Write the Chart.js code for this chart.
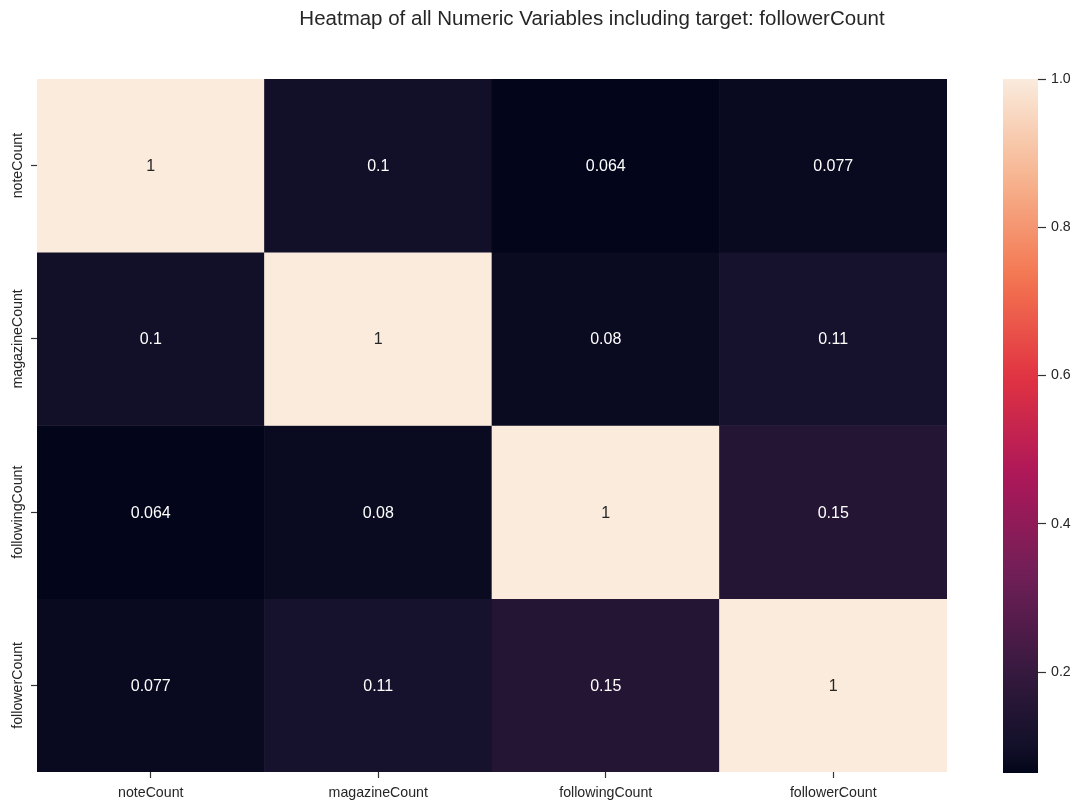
<!DOCTYPE html>
<html>
<head>
<meta charset="utf-8">
<title>Heatmap</title>
<script src="https://cdn.jsdelivr.net/npm/chart.js@4"></script>
<style>
  body { margin: 0; background: #fff; }
  #wrap { position: relative; width: 1082px; height: 810px; }
  .layer { position: absolute; left: 0; top: 0; width: 1082px; height: 810px; }
  #title {
    position: absolute; left: 0; top: 8px; width: 1184px; text-align: center;
    font-family: "Liberation Sans", Arial, sans-serif; font-size: 20.5px; line-height: 1;
    color: #262626; white-space: nowrap;
  }
</style>
</head>
<body>
<div id="wrap">
  <div class="layer"><canvas id="heatmap"></canvas></div>
  <div class="layer"><canvas id="colorbar"></canvas></div>
  <div id="title">Heatmap of all Numeric Variables including target: followerCount</div>
</div>
<script>
// correlation matrix, rows top -> bottom, columns left -> right
const rowLabels = ["noteCount", "magazineCount", "followingCount", "followerCount"];
const colLabels = ["noteCount", "magazineCount", "followingCount", "followerCount"];
const noteCountRow = [1, 0.1, 0.064, 0.077];
const magazineCountRow = [0.1, 1, 0.08, 0.11];
const followingCountRow = [0.064, 0.08, 1, 0.15];
const followerCountRow = [0.077, 0.11, 0.15, 1];
const colorbarTicks = [0.2, 0.4, 0.6, 0.8, 1.0];

const matrix = [noteCountRow, magazineCountRow, followingCountRow, followerCountRow];
const vmin = Math.min(...matrix.flat());
const vmax = Math.max(...matrix.flat());

// approximation of seaborn "rocket"
const rocketStops = [
  [0.0, "#03051a"], [0.04, "#13102a"], [0.092, "#231533"], [0.143, "#35193e"],
  [0.286, "#701f57"], [0.429, "#ad1759"], [0.571, "#e13342"], [0.714, "#f37651"],
  [0.857, "#f6b48f"], [1.0, "#faebdd"]
];

function hexToRgb(h) {
  return [parseInt(h.slice(1, 3), 16), parseInt(h.slice(3, 5), 16), parseInt(h.slice(5, 7), 16)];
}

function rocket(t) {
  t = Math.max(0, Math.min(1, t));
  for (let i = 1; i < rocketStops.length; i++) {
    const [p1, c1] = rocketStops[i];
    if (t <= p1) {
      const [p0, c0] = rocketStops[i - 1];
      const f = (t - p0) / (p1 - p0);
      const a = hexToRgb(c0), b = hexToRgb(c1);
      const m = a.map((v, k) => Math.round(v + (b[k] - v) * f));
      return `rgb(${m[0]}, ${m[1]}, ${m[2]})`;
    }
  }
  return rocketStops[rocketStops.length - 1][1];
}

const norm = v => (v - vmin) / (vmax - vmin);
const fmt = v => String(Number(v.toPrecision(2)));

Chart.defaults.font.family = '"Liberation Sans", Arial, sans-serif';
Chart.defaults.color = "#262626";

const FONT = "Liberation Sans, Arial, sans-serif";

// one dataset per row, each cell a floating bar spanning [row, row + 1]
const datasets = matrix.map((row, r) => ({
  label: rowLabels[r],
  data: colLabels.map(() => [r, r + 1]),
  backgroundColor: row.map(v => rocket(norm(v))),
  borderWidth: 0,
  barPercentage: 1,
  categoryPercentage: 1,
  grouped: false
}));

const cellLabels = {
  id: "cellLabels",
  afterDatasetsDraw(chart) {
    const ctx = chart.ctx;
    ctx.save();
    ctx.font = `16px ${FONT}`;
    ctx.textAlign = "center";
    ctx.textBaseline = "middle";
    matrix.forEach((row, r) => {
      chart.getDatasetMeta(r).data.forEach((bar, c) => {
        const { x, y, base } = bar.getProps(["x", "y", "base"], true);
        ctx.fillStyle = norm(row[c]) > 0.5 ? "#262626" : "#ffffff";
        ctx.fillText(fmt(row[c]), x, (y + base) / 2 + 1);
      });
    });
    ctx.restore();
  }
};

// rotated row labels along the left axis
const rowTickLabels = {
  id: "rowTickLabels",
  afterDraw(chart) {
    const ctx = chart.ctx;
    const scale = chart.scales.y;
    ctx.save();
    ctx.font = `14.2px ${FONT}`;
    ctx.fillStyle = "#262626";
    ctx.textAlign = "center";
    ctx.textBaseline = "middle";
    scale.ticks.forEach((t, i) => {
      const py = scale.getPixelForValue(t.value);
      ctx.save();
      ctx.translate(18, py);
      ctx.rotate(-Math.PI / 2);
      ctx.fillText(rowLabels[i], 0, 0);
      ctx.restore();
    });
    ctx.restore();
  }
};

new Chart(document.getElementById("heatmap"), {
  type: "bar",
  data: { labels: colLabels, datasets: datasets },
  options: {
    responsive: true,
    maintainAspectRatio: false,
    animation: false,
    layout: { padding: { top: 79, right: 135, bottom: 0, left: 0 } },
    plugins: { legend: { display: false }, tooltip: { enabled: false } },
    scales: {
      x: {
        type: "category",
        offset: true,
        grid: { offset: false, drawOnChartArea: false, tickLength: 6, tickWidth: 1.2, color: "#333" },
        border: { display: false },
        ticks: { font: { size: 14.2 }, padding: 7, maxRotation: 0 },
        afterFit: s => { s.height = 38; }
      },
      y: {
        type: "linear",
        min: 0,
        max: 4,
        reverse: true,
        afterBuildTicks: s => { s.ticks = rowLabels.map((_, i) => ({ value: i + 0.5 })); },
        grid: { drawOnChartArea: false, tickLength: 6, tickWidth: 1.2, color: "#333" },
        border: { display: false },
        ticks: { display: false },
        afterFit: s => { s.width = 37; }
      }
    }
  },
  plugins: [cellLabels, rowTickLabels]
});

// colour bar: a single floating bar from vmin to vmax filled with the colormap
new Chart(document.getElementById("colorbar"), {
  type: "bar",
  data: {
    labels: ["scale"],
    datasets: [{
      data: [[vmin, vmax]],
      backgroundColor: ctx => {
        const area = ctx.chart.chartArea;
        if (!area) return "#000";
        const g = ctx.chart.ctx.createLinearGradient(0, area.bottom, 0, area.top);
        for (let i = 0; i <= 50; i++) g.addColorStop(i / 50, rocket(i / 50));
        return g;
      },
      borderWidth: 0,
      barPercentage: 1,
      categoryPercentage: 1
    }]
  },
  options: {
    responsive: true,
    maintainAspectRatio: false,
    animation: false,
    layout: { padding: { top: 79, right: 0, bottom: 37, left: 1003 } },
    plugins: { legend: { display: false }, tooltip: { enabled: false } },
    scales: {
      x: { display: false },
      y: {
        position: "right",
        min: vmin,
        max: vmax,
        afterBuildTicks: s => { s.ticks = colorbarTicks.map(v => ({ value: v })); },
        grid: { drawOnChartArea: false, tickLength: 8, tickWidth: 1.2, color: "#333" },
        border: { display: false },
        ticks: { font: { size: 14.2 }, padding: 5, callback: v => v.toFixed(1) },
        afterFit: s => { s.width = 44; }
      }
    }
  }
});
</script>
</body>
</html>
